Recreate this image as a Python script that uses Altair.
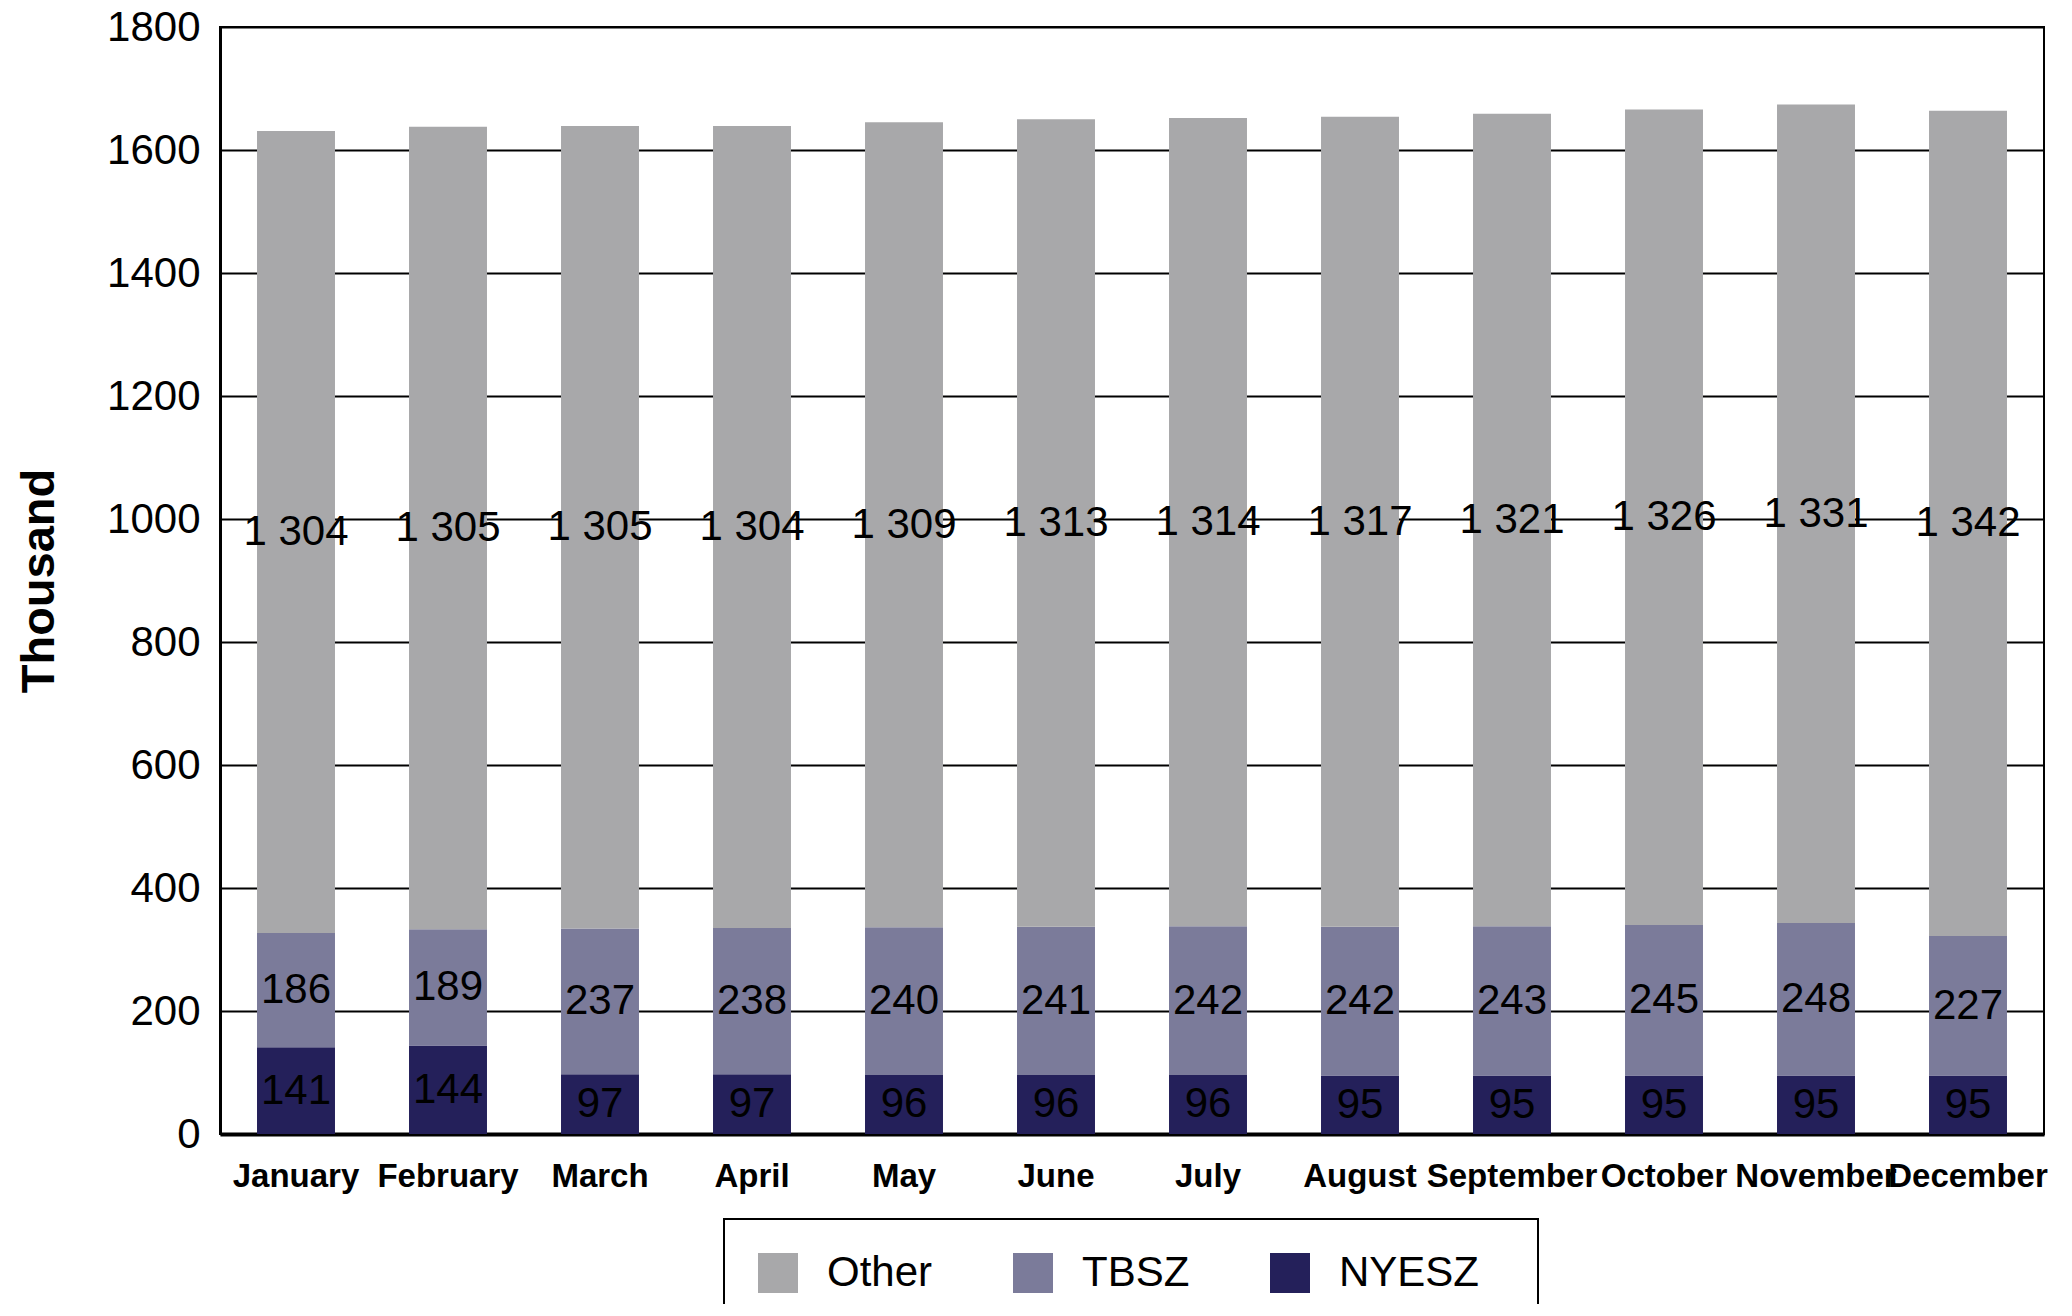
import altair as alt
import pandas as pd

months = ["January", "February", "March", "April", "May", "June", "July",
          "August", "September", "October", "November", "December"]
nyesz = [141, 144, 97, 97, 96, 96, 96, 95, 95, 95, 95, 95]
tbsz = [186, 189, 237, 238, 240, 241, 242, 242, 243, 245, 248, 227]
other = [1304, 1305, 1305, 1304, 1309, 1313, 1314, 1317, 1321, 1326, 1331, 1342]

series = ["Other", "TBSZ", "NYESZ"]
colors = ["#A8A8AA", "#7B7B9A", "#24205A"]
y_ticks = [0, 200, 400, 600, 800, 1000, 1200, 1400, 1600, 1800]

rows = []
for i, m in enumerate(months):
    for s, vals, o in [("NYESZ", nyesz, 0), ("TBSZ", tbsz, 1), ("Other", other, 2)]:
        v = vals[i]
        rows.append({"month": m, "series": s, "value": v, "order": o,
                     "label": f"{v:,}".replace(",", " ")})
df = pd.DataFrame(rows)

FONT = "Liberation Sans"

x_enc = alt.X("month:N", sort=months,
              scale=alt.Scale(paddingInner=0.487, paddingOuter=0.2435),
              axis=alt.Axis(title=None, labelAngle=0, labelFontSize=33,
                            labelFontWeight="bold", labelFont=FONT,
                            labelColor="black", labelPadding=26,
                            labelOverlap=False, labelLimit=400,
                            ticks=False, tickSize=0, domainColor="black",
                            domainWidth=4, grid=False))

y_axis = alt.Axis(title="Thousand", values=y_ticks, format="d",
                  labelFontSize=42,
                  labelFont=FONT, labelColor="black", labelPadding=20,
                  ticks=False, tickSize=0, domainColor="black",
                  domainWidth=3, grid=True, gridColor="black", gridWidth=2,
                  gridOpacity=1, titleFont=FONT, titleFontSize=47,
                  titleFontWeight="bold", titleColor="black",
                  titleX=-167, titleY=553.5, titleAngle=270,
                  titleBaseline="alphabetic", titleAlign="center")
y_scale = alt.Scale(domain=[0, 1800], nice=False)

base = alt.Chart(df)

bars = base.mark_bar().encode(
    x=x_enc,
    y=alt.Y("value:Q", stack="zero", scale=y_scale, axis=y_axis),
    color=alt.Color("series:N",
                    scale=alt.Scale(domain=series, range=colors),
                    legend=alt.Legend(title=".", titleOrient="right",
                                      titleColor="white", titleFontSize=42,
                                      titlePadding=14,
                                      orient="none",
                                      legendX=504, legendY=1192,
                                      direction="horizontal",
                                      symbolType="square", symbolSize=1600,
                                      symbolStrokeWidth=0, symbolOpacity=1,
                                      labelFontSize=42, labelFont=FONT,
                                      labelColor="black", labelOffset=28,
                                      columnPadding=79, padding=33,
                                      strokeColor="black")),
    order=alt.Order("order:Q", sort="ascending"),
)

text = base.transform_stack(
    stack="value", groupby=["month"], as_=["y0", "y1"],
    sort=[alt.SortField(field="order", order="ascending")]
).transform_calculate(
    mid="(datum.y0 + datum.y1) / 2"
).mark_text(fontSize=42, font=FONT, color="black", baseline="middle",
            align="center").encode(
    x=alt.X("month:N", sort=months),
    y=alt.Y("mid:Q", scale=y_scale, axis=y_axis),
    text="label:N",
)

chart = alt.layer(bars, text).properties(
    width=1824, height=1107,
    autosize=alt.AutoSizeParams(type="none"),
    padding={"left": 212, "top": 19, "right": 20, "bottom": 170},
).configure_view(stroke="black", strokeWidth=2).configure_legend(strokeWidth=2)

chart.save("out.html", embed_options={"renderer": "svg", "actions": False})
